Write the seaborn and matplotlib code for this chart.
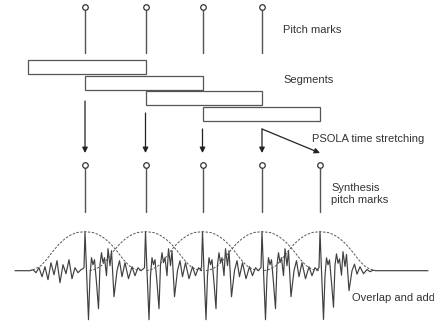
import numpy as np
import pandas as pd
import seaborn as sns
import matplotlib.pyplot as plt
from matplotlib.patches import Rectangle

# ---- data (pixel coordinates) ----
analysis_marks = [85, 145.5, 202.5, 262]
synthesis_marks = [85, 145.5, 202.5, 262, 320]

seg_start = [28, 85, 145.5, 202.5]
seg_end = [145.5, 202.5, 262, 320]
seg_top = [60, 75.5, 91, 107]

arrow_from_x = [85, 145.5, 202.5, 262, 262]
arrow_from_y = [101, 113, 129, 129, 129]
arrow_to_x = [85, 145.5, 202.5, 262, 320]

# one pitch period of the signal: offset from the mark, height above baseline (px)
pulse_dx = [-2, -1, 0, 1.5, 3.5, 5, 6.5, 8, 9.5, 11.5, 13.5, 15, 16.5, 18, 19.5, 21.5,
            23, 25, 26.5, 29, 32, 34.5, 37, 40, 43.5, 47, 50, 53, 56]
pulse_h = [2, 3, 39, 0, -49, -5, 13, 6, 11, -12, -38, 6, 18, 8, 13, -5,
           22, 5, 20, -26, 0, 10, -6, 8, -8, 4, -5, 3, 0]
# fade-in before the first pulse
lead_dx = [-55, -52, -49, -46, -43, -40, -37, -34, -31, -28, -25, -22, -19, -16, -13, -10, -7, -4]
lead_h = [0, 1, -2, 3, -6, 4, -9, 8, -4, 10, -12, 6, -3, 11, -8, 3, -2, 1]

# dashed window shape around each synthesis mark
env_dx = [-56, -50, -44, -38, -32, -26, -20, -14, -8, 0, 8, 14, 20, 26, 32, 38, 44, 50, 56]
env_h = [0, 0.04, 0.13, 0.3, 0.5, 0.68, 0.82, 0.92, 0.98, 1, 0.98, 0.92, 0.82, 0.68,
         0.5, 0.3, 0.13, 0.04, 0]

labels = {
    "Pitch marks": (283, 30),
    "Segments": (283, 80),
    "PSOLA time stretching": (312, 139),
    "Synthesis\npitch marks": (331, 194),
    "Overlap and add": (352, 298),
}

base_y = 270.7
env_peak = 39
line_c = "#555555"

sns.set_style("white")
plt.rcParams['font.family'] = ['Liberation Sans', 'DejaVu Sans']

fig = plt.figure(figsize=(4.34, 3.26), dpi=100)
ax = fig.add_axes([0, 0, 1, 1])

# analysis pitch marks
for x in analysis_marks:
    ax.plot([x, x], [9.5, 53], color=line_c, lw=1.0)
sns.scatterplot(x=analysis_marks, y=[7] * len(analysis_marks), ax=ax, marker="o",
                s=16, facecolor="white", edgecolor="#333", linewidth=0.9, zorder=3)

# segments
for a, b, t in zip(seg_start, seg_end, seg_top):
    ax.add_patch(Rectangle((a, t), b - a, 14, fill=False, edgecolor="#555", lw=0.9))

# arrows
for x0, y0, x1 in zip(arrow_from_x, arrow_from_y, arrow_to_x):
    ax.annotate("", xy=(x1, 153), xytext=(x0, y0),
                arrowprops=dict(arrowstyle="-|>", color="#222", lw=0.9,
                                mutation_scale=8, shrinkA=0, shrinkB=0))

# synthesis pitch marks
for x in synthesis_marks:
    ax.plot([x, x], [167.5, 212], color=line_c, lw=1.0)
sns.scatterplot(x=synthesis_marks, y=[165] * len(synthesis_marks), ax=ax, marker="o",
                s=16, facecolor="white", edgecolor="#333", linewidth=0.9, zorder=3)

# waveform: pulses placed at synthesis marks, last one faded by its window
wx = [15, synthesis_marks[0] + lead_dx[0]]
wy = [0.0, 0.0]
wx += [synthesis_marks[0] + d for d in lead_dx]
wy += lead_h
last = synthesis_marks[-1]
for m in synthesis_marks:
    for d, h in zip(pulse_dx, pulse_h):
        if m == last and d > 0:
            h = h * np.interp(d, env_dx, env_h) ** 0.5
        wx.append(m + d)
        wy.append(h)
wx += [428]
wy += [0]
wave = pd.DataFrame({"x": wx, "y": base_y - np.array(wy, dtype=float)})
sns.lineplot(data=wave, x="x", y="y", ax=ax, sort=False, color="#404040", lw=0.85,
             estimator=None)

# dashed windows
for m in synthesis_marks:
    ex = np.linspace(env_dx[0], env_dx[-1], 120)
    ey = np.interp(ex, env_dx, env_h)
    sns.lineplot(x=m + ex, y=base_y - env_peak * ey, ax=ax, color="#555", lw=0.7,
                 linestyle=(0, (2.5, 1.5)), estimator=None, sort=False)

for txt, (x, y) in labels.items():
    ax.text(x, y, txt, fontsize=8, color="#333", va="center", ha="left",
            linespacing=1.2)

ax.set_xlim(0, 434)
ax.set_ylim(326, 0)
ax.axis("off")
fig.savefig("out.png", dpi=100)
